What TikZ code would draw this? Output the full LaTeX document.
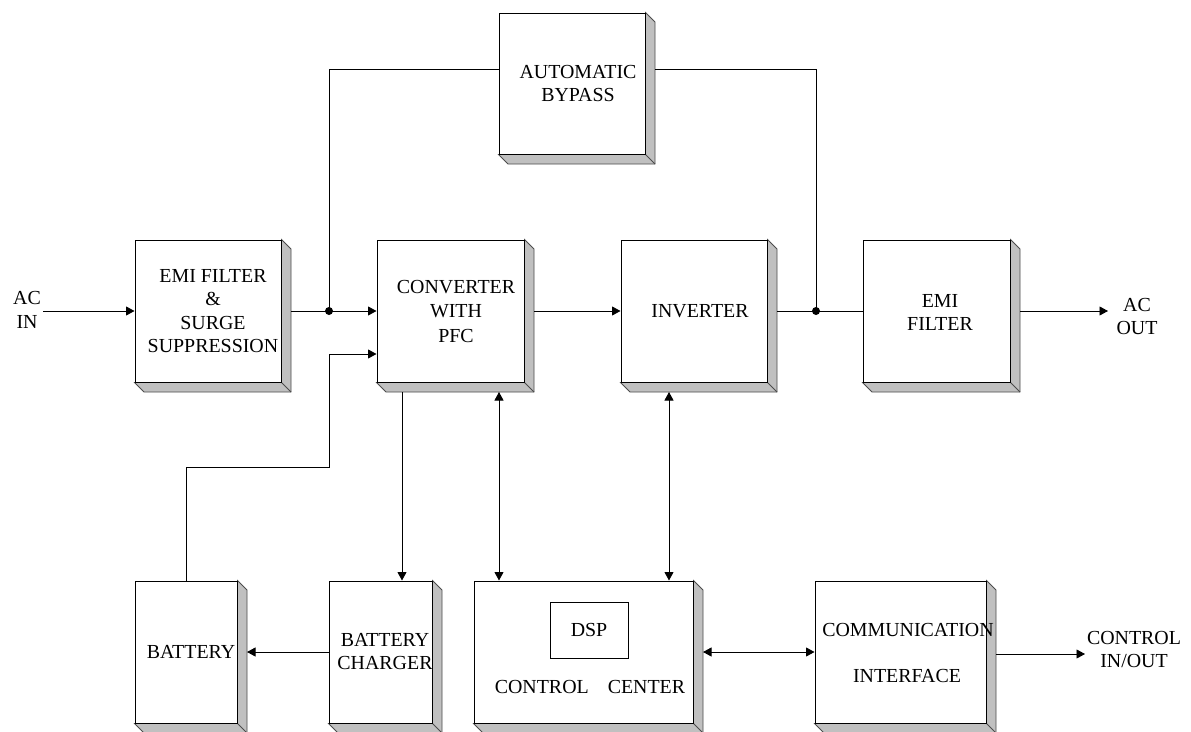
\documentclass[tikz,border=0pt]{standalone}
\usepackage{fontspec}
\setmainfont{Liberation Serif}
\usetikzlibrary{arrows.meta,calc}
\definecolor{boxshade}{RGB}{192,192,192}
\tikzset{
  blk/.style={draw=black, line width=1pt, fill=white, inner sep=0pt, rectangle},
  lbl/.style={font=\fontsize{19.9}{23.5}\selectfont, align=center, inner sep=0pt},
  wire/.style={line width=0.9pt},
  arr/.style={wire, -{Triangle[length=8.5pt,width=9pt]}},
  darr/.style={wire, {Triangle[length=8.5pt,width=9pt]}-{Triangle[length=8.5pt,width=9pt]}},
  jdot/.style={circle, fill=black, inner sep=0pt, minimum size=8pt},
}
% name, cx, cy, w, h
\newcommand{\blockbox}[5]{%
  \node[blk, minimum width=#4pt, minimum height=#5pt] (#1) at (#2,#3) {};
  \filldraw[fill=boxshade, draw=black!70, line width=0.8pt]
    (#1.north east) -- ++(9.5,9.5) -- ($(#1.south east)+(9.5,9.5)$)
    -- ($(#1.south west)+(9.5,9.5)$) -- (#1.south west) -- (#1.south east) -- cycle;
  \draw[black!70, line width=0.8pt] (#1.south east) -- ++(9.5,9.5);
  \draw[line width=1pt] (#1.south west) -- (#1.south east) -- (#1.north east);
}
\begin{document}
\begin{tikzpicture}[x=1pt,y=-1pt]
\useasboundingbox (0,0) rectangle (1191,731);

% blocks
\blockbox{emi}{208}{311}{146}{142}
\blockbox{conv}{450.5}{311}{147}{142}
\blockbox{inv}{694}{311}{146}{142}
\blockbox{emo}{936.5}{311}{147}{142}
\blockbox{byp}{572}{83.5}{146}{141}
\blockbox{bat}{186}{652}{102}{142}
\blockbox{chg}{380.5}{652}{103}{142}
\blockbox{ctl}{583.5}{652}{219}{142}
\blockbox{comm}{900.5}{652}{171}{142}
\node[blk, line width=0.8pt, minimum width=78pt, minimum height=56pt] (dsp) at (589,630) {};

% labels
\node[lbl] (tacin) at (27,310) {AC\\IN};
\node[lbl] (temi) at (213,311) {EMI FILTER\\\&\\SURGE\\SUPPRESSION};
\node[lbl] (tconv) at (456,311.5) {CONVERTER\\[1pt]WITH\\[1pt]PFC};
\node[lbl] (tinv) at (700,311) {INVERTER};
\node[lbl] (tbyp) at (578,83.5) {AUTOMATIC\\BYPASS};
\node[lbl] (temo) at (940,312.5) {EMI\\FILTER};
\node[lbl] (tacout) at (1137,316.5) {AC\\OUT};
\node[lbl] (tdsp) at (589,630) {DSP};
\node[lbl] (tctl) at (590,687) {CONTROL\hspace{19pt}CENTER};
\node[lbl] (tcomm1) at (908,630) {COMMUNICATION};
\node[lbl] (tcomm2) at (907,676) {INTERFACE};
\node[lbl] (tcio) at (1134,649.5) {CONTROL\\IN/OUT};
\node[lbl] (tbat) at (191,652) {BATTERY};
\node[lbl] (tchg) at (385,651.5) {BATTERY\\CHARGER};

% connectors
\coordinate (acin) at (43,311);
\draw[arr] (acin) -- (emi.west);

\coordinate (j1) at (329,311);
\draw[wire] ([xshift=9.5pt]emi.east) -- (j1);
\draw[arr] (j1) -- (conv.west);
\draw[wire] (j1) |- ([yshift=14.5pt]byp.west);

\coordinate (j2) at (816,311);
\draw[wire] ([xshift=9.5pt,yshift=14.5pt]byp.east) -| (j2);
\draw[wire] ([xshift=9.5pt]inv.east) -- (emo.west);

\node[jdot] (d1) at (j1) {};
\node[jdot] (d2) at (j2) {};

\draw[arr] ([xshift=9.5pt]conv.east) -- (inv.west);

\coordinate (acout) at (1108,311);
\draw[arr] ([xshift=9.5pt]emo.east) -- (acout);

\coordinate (b1) at (186,467);
\coordinate (b2) at (329,467);
\coordinate (b3) at (329,354);
\draw[arr] (bat.north) -- (b1) -- (b2) -- (b3) -- (conv.west |- b3);

\draw[arr] ([xshift=-48.5pt,yshift=-9.5pt]conv.south) -- ([xshift=21.5pt]chg.north);
\draw[darr] ([xshift=48.5pt,yshift=-9.5pt]conv.south) -- ([xshift=-84.5pt]ctl.north);
\draw[darr] ([xshift=-25pt,yshift=-9.5pt]inv.south) -- ([xshift=85.5pt]ctl.north);

\draw[arr] (chg.west) -- ([xshift=9.5pt]bat.east);
\draw[darr] ([xshift=9.5pt]ctl.east) -- (comm.west);

\coordinate (cio) at (1085,654);
\draw[arr] ([xshift=9.5pt]comm.east |- cio) -- (cio);
\end{tikzpicture}
\end{document}
